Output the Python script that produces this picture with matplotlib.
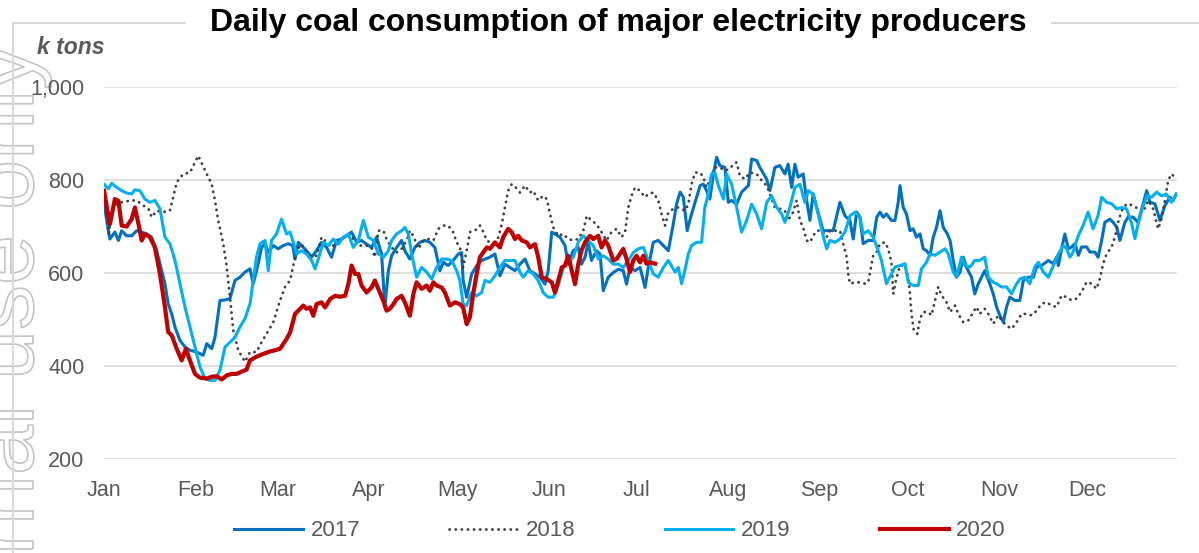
import matplotlib
matplotlib.use("Agg")
import matplotlib.pyplot as plt
from matplotlib.lines import Line2D
from matplotlib.patches import PathPatch
from matplotlib.textpath import TextPath
from matplotlib.font_manager import FontProperties
from matplotlib.ticker import FuncFormatter
from matplotlib import transforms

plt.rcParams['font.family'] = ['Liberation Sans', 'DejaVu Sans']

W, H = 1199, 553

# Daily coal consumption (k tons), (day of year, value)
pts_2017 = [(0,748),(2,673),(3.7,688),(4.9,670),(6,691),(7.7,680),(9.4,680),(11.1,691),(12.8,688),(14.5,684),(16.2,677),(17.9,648),(19.6,605),(20.7,577),(21.8,534),(23,512),(24.1,484),(25.8,455),(27.5,441),(29.2,434),(31.5,430),(33.7,423),(34.9,448),(36.6,437),(37.7,462),(39.4,541),(41.1,542),(42.8,545),(44.5,584),(46.2,591),(47.9,602),(49.6,609),(50.7,577),(52.4,620),(53.5,655),(54.7,663),(55.8,645),(57.5,659),(59.2,652),(60.9,659),(62.6,663),(64.1,659),(64.9,630),(66,666),(67.1,659),(68.8,648),(70.5,634),(72.2,648),(73.9,666),(75.6,655),(77.3,634),(79,670),(80.7,673),(82.4,680),(84.1,688),(85.8,666),(87.5,670),(89.2,662),(90.9,655),(92.6,677),(94.3,641),(95.4,526),(96.6,605),(97.7,637),(99.4,655),(101.1,670),(102.2,648),(103.9,630),(105.6,655),(107.3,666),(109,670),(110.7,666),(112.4,655),(114.1,605),(115.3,623),(116.9,616),(118.6,627),(120.4,641),(121.5,644),(122,584),(123.2,548),(124.9,598),(126.6,616),(128.3,627),(131.1,634),(132.8,641),(134.5,594),(136.2,619),(137.9,612),(139.6,605),(141.3,619),(143,630),(144.7,605),(146.4,598),(148.1,591),(149.8,576),(150.9,605),(152.1,688),(153.2,684),(154.9,677),(156.6,659),(157.7,619),(159.4,648),(161.1,655),(162.2,619),(163.4,634),(164.5,666),(165.6,627),(167.3,648),(168.5,641),(169.6,562),(171.3,591),(173,601),(174.7,608),(176.4,605),(177.5,576),(178.7,612),(180.4,605),(182.1,612),(183.8,569),(184.9,612),(186.6,666),(188.3,670),(190,659),(191.7,648),(193.4,706),(194.5,748),(195.7,774),(196.8,763),(198.1,691),(199.6,727),(201.3,763),(202.5,788),(203.6,791),(204.7,777),(205.8,759),(207,813),(208.1,849),(209.2,831),(210.9,827),(212.1,752),(213.2,756),(214.9,748),(216.6,774),(218.9,788),(220,845),(221.7,842),(222.8,827),(225.1,802),(226.2,777),(227.9,827),(229.6,831),(231.3,813),(232.4,834),(233.6,784),(234.7,834),(235.8,806),(237.5,813),(238.7,756),(239.8,713),(240.9,770),(242.1,741),(244.3,691),(246,691),(247.7,691),(250,752),(251.7,723),(253.4,713),(254.5,673),(255.7,731),(256.8,720),(257.9,663),(259.6,670),(261.3,670),(262.5,720),(263.6,731),(264.7,720),(265.8,727),(267.5,713),(268.7,713),(269.8,752),(270.4,788),(271.5,741),(272.6,727),(273.8,691),(274.9,695),(276,677),(277.2,684),(278.3,652),(279.4,648),(280.6,638),(281.7,677),(282.8,698),(284,734),(285.1,698),(286.5,684),(287.4,670),(288.5,627),(289.6,591),(290.8,602),(291.9,634),(293,612),(294.7,591),(295.8,555),(297,577),(298.1,591),(299.2,605),(300.9,577),(302.1,555),(303.2,527),(304.3,509),(305.5,494),(306.6,527),(307.7,548),(309.4,541),(311.1,541),(312.3,584),(314,591),(315.7,591),(316.8,613),(318.5,616),(320.8,627),(322.5,620),(323.6,634),(324.2,616),(325.3,652),(326.4,684),(327.6,652),(328.7,656),(329.8,663),(331,638),(332.1,656),(333.8,656),(334.9,645),(336.6,645),(337.7,634),(338.9,670),(340,709),(341.7,716),(342.8,709),(344,699),(345.1,670),(346.8,709),(347.9,720),(349.6,720),(351.3,709),(353,749),(354.2,777),(355.3,752),(357,749),(358.7,713),(360.4,745),(362.1,763),(363.2,756),(364.3,770)]

pts_2018 = [(0.3,748),(1.5,684),(3.2,741),(4.9,752),(6.6,752),(8.8,756),(11.1,756),(13.4,745),(15.1,738),(16.2,720),(17.9,734),(20.1,731),(22.4,734),(24.7,795),(26.9,813),(29.2,816),(32,852),(34.9,813),(36.6,791),(37.7,756),(38.8,713),(40.5,663),(41.7,613),(42.8,548),(43.9,477),(45.6,434),(47.9,409),(49.6,430),(51.8,430),(53.5,451),(55.2,469),(57.5,494),(59.8,541),(61.5,570),(63.2,584),(64.3,616),(65.4,648),(67.1,662),(68.8,644),(70.5,637),(72.2,637),(73.9,677),(75.6,666),(77.3,655),(79,666),(80.7,673),(82.4,680),(84.1,680),(85.8,659),(87.5,659),(89.2,659),(90.9,655),(92,634),(93.2,691),(94.9,691),(96,673),(97.7,655),(99.4,644),(101.1,652),(102.8,670),(103.9,691),(105.1,680),(106.8,652),(108.5,670),(110.2,673),(111.9,670),(113.6,695),(115.3,702),(116.9,702),(118.6,688),(119.8,666),(120.9,655),(122,612),(123.2,648),(124.3,688),(126,691),(127.7,702),(128.9,688),(130,670),(131.1,666),(132.8,666),(134,677),(135.1,705),(136.2,741),(137.3,777),(138.5,791),(139.6,786),(141.3,773),(143,788),(144.7,773),(145.8,777),(147.5,756),(149.2,766),(150.4,759),(151.5,727),(152.6,698),(154.3,680),(156,684),(157.7,673),(159.4,670),(161.1,673),(162.8,691),(164,723),(165.6,713),(167.3,705),(169,688),(170.7,670),(172.4,688),(174.1,695),(175.8,677),(177,688),(178.1,741),(179.2,766),(180.4,784),(182.1,777),(183.8,763),(184.9,770),(186.6,773),(188.3,756),(189.4,727),(190.6,702),(191.7,730),(193.4,738),(195.1,741),(197.4,734),(198.5,748),(199.6,791),(200.8,816),(202.5,816),(203.6,806),(204.7,784),(206.4,809),(207.5,827),(209.2,827),(210.9,820),(212.6,824),(213.8,834),(214.9,838),(216,809),(217.7,802),(219.4,816),(221.7,813),(223.4,799),(225.1,788),(226.2,770),(227.9,741),(229.6,738),(231.3,734),(232.4,713),(234.1,731),(235.3,756),(236.4,713),(237.5,698),(238.7,670),(239.8,666),(240.9,680),(242.1,691),(243.8,691),(245.5,677),(246.6,691),(248.3,691),(250,691),(251.1,663),(252.3,634),(252.8,598),(253.4,577),(255.1,580),(256.8,580),(258.5,577),(259.6,580),(261.3,638),(262.5,645),(263.6,663),(265.3,666),(266.4,652),(267.5,623),(268.1,555),(269,584),(270.4,616),(272.1,616),(273.2,591),(273.8,555),(274.3,512),(275.1,477),(276.3,469),(277.2,502),(278.3,516),(280,516),(281.1,509),(282.3,541),(283.4,570),(284.5,552),(286.2,537),(287.4,516),(289.1,530),(290.2,512),(291.9,494),(293.6,498),(295.3,516),(296.4,527),(297.5,512),(299.2,523),(300.4,512),(302.1,491),(303.8,509),(305.5,494),(306.6,487),(308.3,480),(310,494),(311.7,512),(313.4,512),(315.1,509),(316.8,519),(318.5,534),(320.2,537),(321.9,530),(323.6,527),(325.3,552),(327,548),(328.7,541),(330.4,545),(332.1,559),(333.8,581),(335.5,577),(337.2,566),(338.3,588),(339.4,620),(340.6,641),(342.3,656),(343.4,677),(344.5,709),(345.7,734),(347.4,749),(349.6,745),(351.3,738),(353,731),(354.7,756),(356.4,738),(358.1,695),(359.2,716),(360.4,756),(361.5,799),(362.6,813),(363.8,806)]

pts_2019 = [(0,791),(1.5,781),(2.6,793),(4.3,784),(6,777),(7.7,772),(9.4,770),(10.5,779),(12.2,777),(13.9,759),(15.6,752),(17.3,756),(19,738),(20.7,677),(22.4,663),(24.1,627),(25.8,577),(27.5,527),(29.2,484),(30.9,441),(32.6,398),(34.3,373),(36,369),(37.7,369),(39.4,391),(41.1,441),(42.8,451),(44.5,462),(46.2,484),(47.9,502),(49.6,534),(50.7,584),(51.8,634),(53,663),(54.7,670),(55.8,605),(56.9,670),(58.6,684),(60.3,716),(62,684),(63.2,688),(64.3,666),(65.4,641),(67.1,648),(68.8,641),(70.5,627),(71.7,609),(72.8,630),(74.5,666),(76.2,659),(77.9,673),(79.6,662),(81.3,677),(83,684),(84.7,655),(86.4,670),(88.1,713),(89.8,677),(91.5,670),(93.2,641),(94.9,634),(96.6,648),(97.7,670),(99.4,684),(101.1,691),(102.2,698),(103.4,684),(104.5,641),(106.2,591),(107.9,612),(109.6,602),(111.3,587),(113,612),(114.7,630),(116.4,630),(118.1,627),(119.8,605),(120.9,584),(122,533),(123.2,530),(124.9,558),(126.6,551),(128.3,558),(129.4,584),(131.1,580),(132.8,594),(134.5,612),(136.2,627),(137.9,627),(139.6,627),(141.3,602),(142.4,591),(144.1,605),(145.8,598),(147.5,584),(149.2,558),(150.9,548),(152.6,548),(154.3,573),(156,612),(157.7,623),(159.4,634),(161.1,666),(162.8,680),(164.5,670),(166.2,659),(167.9,630),(169.6,637),(171.3,630),(173,619),(174.7,619),(176.4,612),(178.1,627),(179.8,644),(181.5,652),(183.2,655),(184.9,627),(186.6,598),(188.3,591),(190,612),(191.7,627),(194,602),(195.1,612),(196.2,577),(197.3,605),(198.5,641),(199.6,659),(201.3,666),(203,666),(204.1,741),(205.3,770),(206.4,813),(207.5,816),(208.7,788),(210.4,759),(211.5,813),(213.2,791),(214.9,741),(216.6,688),(218.3,713),(220,748),(221.7,727),(223.4,695),(225.1,752),(226.8,766),(228.5,741),(230.2,727),(231.3,709),(233,741),(234.7,784),(236.4,791),(238.1,752),(239.2,777),(240.9,770),(242.6,727),(244.3,680),(245.5,652),(246.6,670),(248.3,666),(250,673),(251.7,688),(253.4,723),(255.1,731),(256.8,720),(257.9,684),(259.6,691),(261.3,677),(263,648),(264.1,627),(265.8,577),(267.5,598),(268.7,613),(270.4,616),(272.1,620),(273.2,580),(274.9,573),(276.6,573),(277.7,609),(279.4,623),(280.6,641),(282.3,638),(284,645),(285.7,652),(286.8,641),(288.5,602),(289.6,591),(291.3,634),(292.5,616),(294.2,613),(295.8,627),(297.5,627),(299.2,634),(300.4,591),(302.1,580),(303.2,577),(304.9,570),(306.6,570),(308.3,555),(309.4,570),(311.1,587),(312.8,591),(314.5,577),(316.2,613),(317.4,623),(319.1,602),(320.8,591),(322.5,616),(324.2,641),(325.9,659),(327,652),(328.1,634),(329.2,645),(331,681),(332.6,702),(334.3,731),(336,695),(337.7,724),(338.9,763),(340.6,752),(342.3,749),(344,738),(345.7,741),(347.4,738),(349.1,706),(350.2,674),(351.3,706),(352.5,734),(354.2,766),(355.9,763),(357.6,774),(359.2,766),(360.9,770),(362.6,752),(364.3,770)]

pts_2020 = [(0,777),(2,705),(3.7,759),(4.9,755),(6,702),(7.7,700),(9.4,716),(10.5,741),(11.7,706),(12.8,670),(13.9,684),(15.6,677),(17.3,655),(19,598),(20.7,527),(21.8,473),(23,466),(24.7,437),(26.4,412),(27.8,437),(29.2,412),(30.9,383),(32.6,375),(34.9,373),(36.6,377),(38.3,378),(40,371),(41.7,380),(43.4,383),(45,383),(46.8,388),(48.4,392),(49.6,412),(51.8,420),(54.1,426),(55.8,430),(57.5,433),(59.8,437),(62,458),(63.2,472),(64.9,512),(66.6,523),(67.7,530),(68.8,523),(70,526),(71.1,508),(72.2,533),(73.9,537),(75.1,526),(76.8,544),(78.5,551),(80.2,549),(81.9,551),(83,576),(84.1,616),(85.3,598),(86.4,598),(87.5,573),(89.2,558),(90.9,569),(92,584),(93.2,566),(94.9,540),(96,519),(97.1,523),(98.3,533),(99.4,544),(101.1,551),(102.2,537),(103.9,508),(105.1,555),(106.2,580),(107.9,566),(109.6,573),(110.7,562),(111.9,580),(113,573),(114.7,569),(115.8,558),(117.5,530),(119.2,537),(120.9,533),(122,526),(123.2,490),(124.3,505),(125.4,555),(126.6,598),(127.7,634),(130,655),(131.1,652),(132.8,666),(134.5,655),(135.6,677),(137.3,695),(138.5,688),(139.6,673),(140.7,680),(141.9,670),(143.6,666),(144.7,655),(146.4,662),(147.5,634),(148.7,591),(150.4,587),(152.1,580),(153.2,558),(154.3,583),(155.5,612),(156.6,616),(157.7,637),(158.9,605),(160,576),(161.1,619),(162.2,648),(163.4,666),(165.1,680),(166.2,673),(167.9,680),(169,655),(170.2,670),(171.3,659),(173,627),(174.1,630),(175.3,641),(176.4,652),(177.5,630),(178.7,602),(179.8,627),(180.9,637),(182.1,623),(183.2,637),(184.3,620),(185.5,623),(187.2,620)]

month_starts = [0, 31, 59, 90, 120, 151, 181, 212, 243, 273, 304, 334]
month_labels = ['Jan', 'Feb', 'Mar', 'Apr', 'May', 'Jun',
                'Jul', 'Aug', 'Sep', 'Oct', 'Nov', 'Dec']
y_ticks = [200, 400, 600, 800, 1000]

series = [
    ('2017', pts_2017, dict(color='#0070C0', lw=2.2, ls='-')),
    ('2018', pts_2018, dict(color='#404040', lw=2.0, ls=(0, (0.1, 2.1)),
                            dash_capstyle='round')),
    ('2019', pts_2019, dict(color='#00B0F0', lw=2.2, ls='-')),
    ('2020', pts_2020, dict(color='#C00000', lw=3.0, ls='-')),
]

fig = plt.figure(figsize=(W / 100, H / 100), dpi=100)
fig.patch.set_facecolor('white')

ax = fig.add_axes([104 / W, 1 - 459 / H, (1177 - 104) / W, (459 - 87) / H])
ax.set_facecolor('none')

for name, pts, style in series:
    days = [p[0] for p in pts]
    vals = [p[1] for p in pts]
    ax.plot(days, vals, label=name, solid_joinstyle='round', **style)

ax.set_xlim(0, 364.5)
ax.set_ylim(200, 1000)
ax.set_xticks(month_starts)
ax.set_xticklabels(month_labels)
ax.set_yticks(y_ticks)
ax.yaxis.set_major_formatter(FuncFormatter(lambda v, p: f'{int(v):,}'))
ax.grid(axis='y', color='#d9d9d9', lw=1.2)
ax.set_axisbelow(True)
for s in ax.spines.values():
    s.set_visible(False)
ax.tick_params(axis='both', length=0, labelsize=15.5, labelcolor='#595959')
ax.tick_params(axis='x', pad=15)
ax.tick_params(axis='y', pad=14)

leg = fig.legend(loc='center', bbox_to_anchor=(620 / W, 1 - 531 / H), ncol=4,
                 frameon=False, fontsize=16, handlelength=3.1,
                 handletextpad=0.35, columnspacing=4.0)
for t in leg.get_texts():
    t.set_color('#595959')

# outer frame, interrupted by the title
frame_kw = dict(color='#d9d9d9', lw=1.5, transform=fig.transFigure)
fig.add_artist(Line2D([13 / W, 13 / W], [0, 1 - 23 / H], **frame_kw))
fig.add_artist(Line2D([13 / W, 185 / W], [1 - 23 / H, 1 - 23 / H], **frame_kw))
fig.add_artist(Line2D([1052 / W, 1], [1 - 23 / H, 1 - 23 / H], **frame_kw))

fig.text(618 / W, 1 - 23 / H, 'Daily coal consumption of major electricity producers',
         ha='center', va='center', fontsize=23, fontweight='bold', color='black')
fig.text(37 / W, 1 - 48 / H, 'k tons', ha='left', va='center', fontsize=16.5,
         fontweight='bold', fontstyle='italic', color='#595959')

# outlined vertical watermark
fp = FontProperties(family='Liberation Sans')
tp = TextPath((0, 0), 'For internal use only', size=90, prop=fp)
tw = tp.get_extents().x1
tr = (transforms.Affine2D().rotate_deg(90).translate(33, (H - 45) - tw)
      .scale(1 / W, 1 / H) + fig.transFigure)
fig.add_artist(PathPatch(tp, facecolor='none', edgecolor='#c4c4c4', lw=1.2,
                         transform=tr, zorder=0))

fig.savefig('out.png', dpi=100, facecolor='white')
